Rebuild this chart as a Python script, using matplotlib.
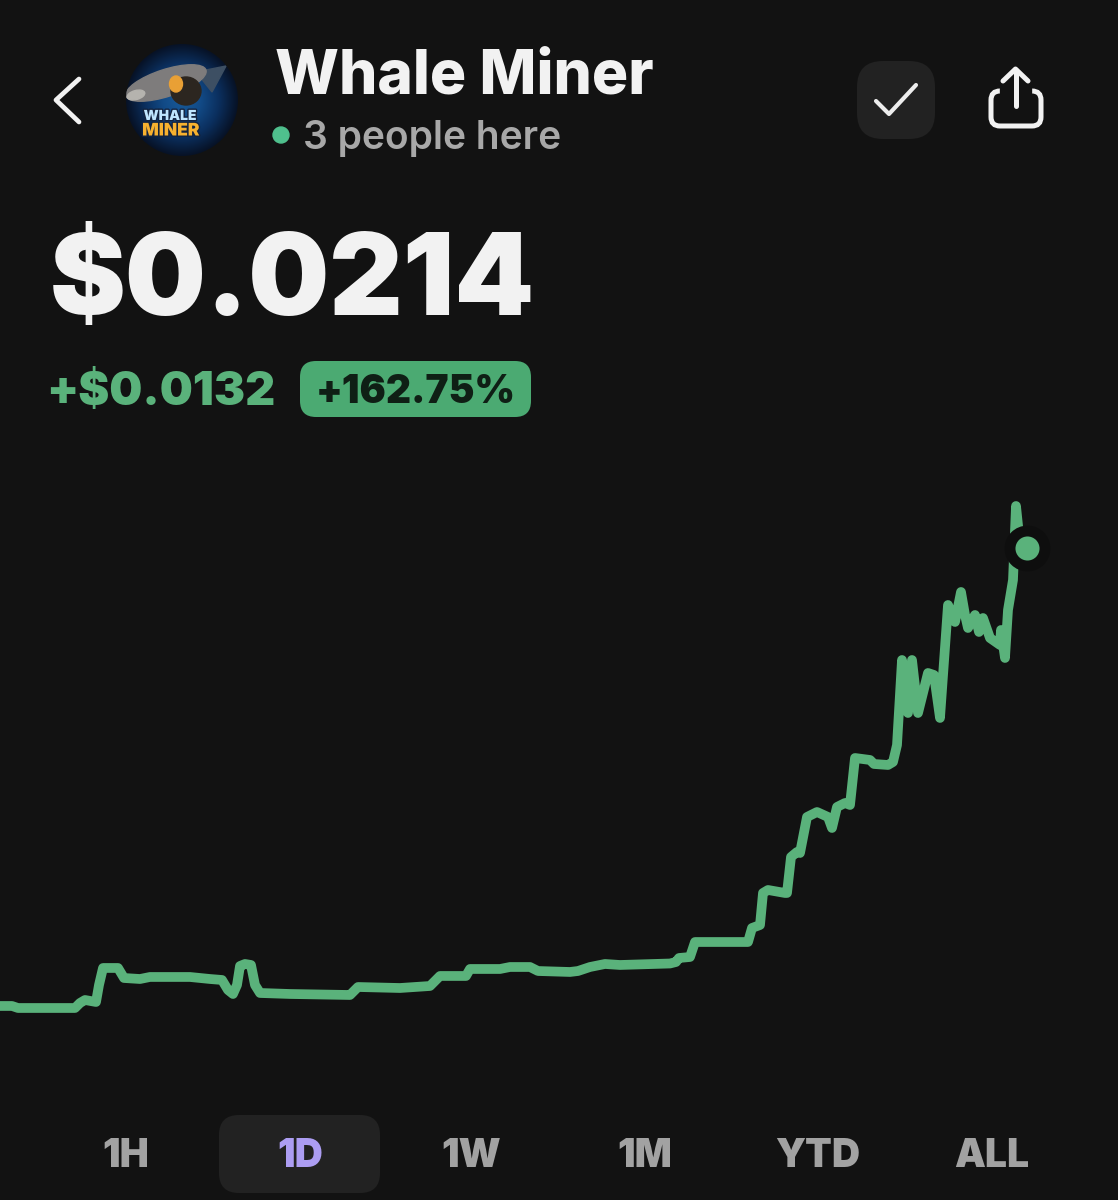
import matplotlib
matplotlib.use("Agg")
import matplotlib.pyplot as plt
import matplotlib.patheffects as pe
from matplotlib.patches import Circle, Ellipse, FancyBboxPatch, Polygon
import numpy as np

plt.rcParams['font.family'] = ['Inter', 'Liberation Sans', 'DejaVu Sans']

# time is just a running index along the day, price in units of $0.0001
time_idx = [0, 12, 18, 40, 75, 80, 85, 96, 99, 103, 118, 124, 140, 150, 190, 210, 222, 228, 233, 237,
            240, 245, 251, 255, 260, 290, 350, 353, 358, 400, 430, 434, 440, 450, 455, 466, 470, 500,
            510, 530, 538, 570, 578, 590, 605, 620, 670, 676, 679, 690, 695, 748, 752, 760, 763, 768,
            785, 787, 791, 797, 800, 807, 817, 828, 832, 837, 845, 850, 855, 870, 874, 888, 893, 897,
            902, 908, 912, 918, 928, 934, 940, 948, 955, 961, 965, 968, 975, 979, 983, 990, 1000, 1001,
            1005, 1008, 1013, 1016, 1019, 1027]
price_e4 = [82.29, 82.29, 81.71, 81.71, 81.71, 83.15, 84.01, 83.44, 88.33, 93.22, 93.22, 90.34, 90.05,
            90.63, 90.63, 90.05, 89.77, 86.89, 85.74, 88.33, 93.79, 94.37, 94.08, 88.33, 86.03, 85.74,
            85.45, 86.31, 87.75, 87.46, 88.04, 89.19, 90.92, 90.92, 90.92, 90.92, 92.93, 92.93, 93.50,
            93.50, 92.35, 92.07, 92.35, 93.50, 94.37, 94.08, 94.51, 94.94, 96.09, 96.38, 100.69, 100.69,
            104.72, 105.58, 114.79, 115.65, 114.79, 114.79, 125.14, 126.58, 126.29, 136.64, 138.08,
            136.64, 133.48, 139.52, 140.67, 140.10, 153.61, 153.04, 151.89, 151.60, 152.46, 157.35,
            181.80, 166.55, 181.80, 166.55, 178.06, 177.48, 165.12, 197.62, 192.73, 201.36, 194.74,
            191.00, 194.74, 189.85, 193.87, 188.12, 186.11, 190.43, 182.37, 196.18, 204.81, 226.09,
            217.75, 214.00]

coin_name = "Whale Miner"
people_here = "3 people here"
price_label = "$0.0214"
change_label = "+$0.0132"
change_pct = "+162.75%"
tabs = ["1H", "1D", "1W", "1M", "YTD", "ALL"]
tab_x = [126, 300, 471, 645, 818, 992]
active_tab = "1D"

BG = "#121212"
GREEN = "#5AB27B"

fig = plt.figure(figsize=(11.18, 12.0), dpi=100, facecolor=BG)

# chart layer
ax = fig.add_axes([0, 0, 1, 1])
ax.set_facecolor(BG)
ax.set_xlim(0, 1118)
ax.set_ylim(26.49, 371.61)
ax.axis("off")
ax.plot(time_idx[:-1], price_e4[:-1], color=GREEN, lw=7, solid_joinstyle="round", solid_capstyle="round")
ax.scatter(time_idx[-1:], price_e4[-1:], s=1090, color="#0E0E0E", zorder=3, linewidths=0)
ax.scatter(time_idx[-1:], price_e4[-1:], s=300, color=GREEN, zorder=4, linewidths=0)

# header and tabs layer, in picture pixels
ui = fig.add_axes([0, 0, 1, 1])
ui.set_xlim(0, 1118)
ui.set_ylim(1200, 0)
ui.axis("off")
ui.patch.set_alpha(0)

ui.plot([79, 56, 79], [79, 100, 122], color="#F2F2F2", lw=3.4, solid_capstyle="round", solid_joinstyle="round")

# avatar
clip = Circle((182, 100), 56, transform=ui.transData)
yy, xx = np.mgrid[-1:1:200j, -1:1:200j]
glow = np.clip(1 - np.hypot(xx, yy), 0, 1)
img = ui.imshow(glow, extent=(126, 238, 156, 44), cmap=matplotlib.colors.LinearSegmentedColormap.from_list(
    "av", ["#071226", "#0B2F5E", "#124A86", "#185A98"]), aspect="auto", zorder=1)
img.set_clip_path(clip)
ui.set_xlim(0, 1118)
ui.set_ylim(1200, 0)
for p in [Polygon([[196, 72], [226, 66], [212, 92]], color="#3D4F63", zorder=2),
          Ellipse((166, 83), 84, 27, angle=-18, color="#7E7C7C", zorder=2),
          Ellipse((136, 95), 18, 9, angle=-15, color="#B5B3AE", zorder=2),
          Ellipse((186, 91), 30, 28, color="#2C2620", zorder=3),
          Ellipse((176, 84), 13, 16, color="#E9A035", zorder=3)]:
    ui.add_patch(p)
    p.set_clip_path(clip)
outline = [pe.withStroke(linewidth=2, foreground="#13233F")]
ui.text(170, 116, "WHALE", color="#BFE6FF", fontsize=10, fontweight="black", ha="center", va="center",
        zorder=4, path_effects=outline)
ui.text(171, 131, "MINER", color="#F7B12F", fontsize=12.5, fontweight="black", ha="center", va="center",
        zorder=4, path_effects=outline)

ui.text(275, 93, coin_name, color="#F2F2F2", fontsize=43.5, fontweight="heavy", va="baseline")
ui.add_patch(Circle((281, 135), 8, color="#4FC08D"))
ui.text(303, 149, people_here, color="#A8A8A8", fontsize=28, fontweight="semibold", va="baseline")

# watchlist and share buttons
ui.add_patch(FancyBboxPatch((857, 61), 78, 78, boxstyle="round,pad=0,rounding_size=26", lw=0, color="#222222"))
ui.plot([876, 889, 916], [101, 114, 85], color="#EDEDED", lw=3, solid_capstyle="round", solid_joinstyle="round")
ui.add_patch(FancyBboxPatch((991, 91), 50, 35, boxstyle="round,pad=0,rounding_size=9", fill=False, ec="#F2F2F2", lw=3.6))
ui.plot([1004, 1028], [90, 90], color=BG, lw=6)
ui.plot([1015.5, 1015.5], [70, 106], color="#F2F2F2", lw=3.6, solid_capstyle="round")
ui.plot([1003, 1015.5, 1028], [81, 69, 81], color="#F2F2F2", lw=3.6, solid_capstyle="round", solid_joinstyle="round")

ui.text(50, 315, price_label, color="#F2F2F2", fontsize=82, fontweight="black", va="baseline")
ui.text(46, 405, change_label, color=GREEN, fontsize=33.5, fontweight="black", va="baseline")
ui.add_patch(FancyBboxPatch((300, 361), 231, 56, boxstyle="round,pad=0,rounding_size=16", lw=0, color="#4BAA72"))
ui.text(415.5, 403, change_pct, color="#0F1F15", fontsize=28, fontweight="black", ha="center", va="baseline")

ui.add_patch(FancyBboxPatch((219, 1115), 161, 78, boxstyle="round,pad=0,rounding_size=20", lw=0, color="#222222"))
for name, x in zip(tabs, tab_x):
    col = "#AC9DF2" if name == active_tab else "#A2A2A2"
    ui.text(x, 1167, name, color=col, fontsize=28, fontweight="black", ha="center", va="baseline")

fig.savefig("out.png", dpi=100, facecolor=BG)
